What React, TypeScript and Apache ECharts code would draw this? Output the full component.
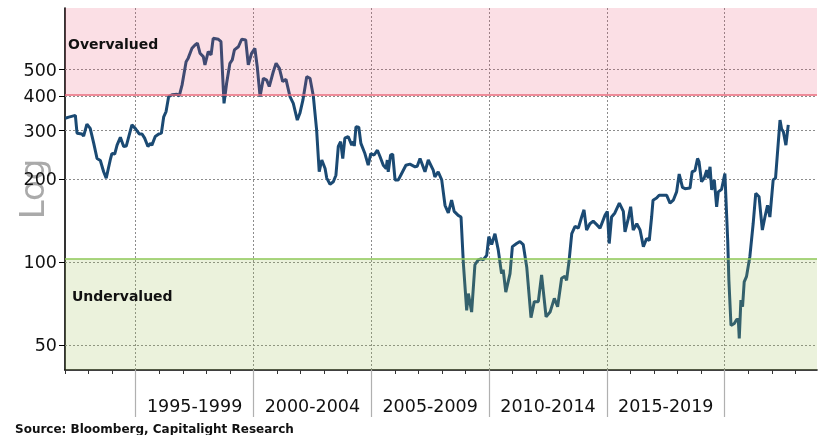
import React, { useEffect, useRef } from "react";
import * as echarts from "echarts";

// Period separators and labels on the time axis
const periodBounds = [1995, 2000, 2005, 2010, 2015, 2020];
const periodCenters = [1997.5, 2002.5, 2007.5, 2012.5, 2017.5];
const periodLabels = ["1995-1999", "2000-2004", "2005-2009", "2010-2014", "2015-2019"];
const yearTicks = Array.from({ length: 32 }, (_, i) => 1992 + i);

// Log value-axis ticks
const yTicks = [50, 100, 200, 300, 400, 500];
const yMin = 40.7;
const yMax = 836;

// Valuation bands
const overvaluedLevel = 406;
const undervaluedLevel = 103;

// [decimal year, value]
const valuation: [number, number][] = [
  [1992.01, 333], [1992.16, 336], [1992.44, 341], [1992.51, 294], [1992.72, 292], [1992.79, 287],
  [1992.93, 317], [1993.07, 306], [1993.22, 270], [1993.36, 238], [1993.5, 234], [1993.64, 213],
  [1993.75, 202], [1993.92, 235], [1993.99, 248], [1994.11, 247], [1994.21, 266], [1994.35, 284],
  [1994.49, 263], [1994.6, 264], [1994.84, 315], [1994.98, 306], [1995.15, 292], [1995.27, 292],
  [1995.38, 282], [1995.52, 263], [1995.62, 270], [1995.69, 266], [1995.83, 286], [1995.98, 292],
  [1996.09, 294], [1996.19, 337], [1996.29, 352], [1996.4, 399], [1996.54, 405], [1996.75, 407],
  [1996.85, 401], [1996.97, 440], [1997.14, 534], [1997.23, 550], [1997.39, 597], [1997.52, 614],
  [1997.62, 623], [1997.73, 573], [1997.87, 557], [1997.94, 520], [1998.08, 581], [1998.2, 565],
  [1998.29, 649], [1998.51, 644], [1998.62, 631], [1998.75, 377], [1998.86, 446], [1999.0, 527],
  [1999.1, 542], [1999.19, 589], [1999.36, 605], [1999.5, 644], [1999.67, 640], [1999.78, 520],
  [1999.92, 573], [2000.06, 597], [2000.16, 512], [2000.28, 399], [2000.42, 465], [2000.56, 458],
  [2000.67, 434], [2000.84, 491], [2000.96, 527], [2001.1, 505], [2001.24, 452], [2001.38, 461],
  [2001.55, 399], [2001.69, 377], [2001.86, 328], [2001.97, 347], [2002.1, 388], [2002.26, 471],
  [2002.4, 465], [2002.54, 401], [2002.68, 302], [2002.79, 213], [2002.9, 235], [2003.04, 219],
  [2003.11, 202], [2003.25, 192], [2003.39, 196], [2003.5, 207], [2003.6, 263], [2003.7, 274],
  [2003.79, 238], [2003.88, 282], [2004.02, 286], [2004.17, 266], [2004.24, 274], [2004.28, 264],
  [2004.35, 310], [2004.47, 309], [2004.56, 270], [2004.73, 248], [2004.87, 225], [2004.98, 248],
  [2005.12, 245], [2005.26, 255], [2005.37, 242], [2005.51, 225], [2005.63, 219], [2005.68, 235],
  [2005.72, 213], [2005.82, 245], [2005.91, 247], [2006.01, 199], [2006.15, 199], [2006.29, 210],
  [2006.47, 225], [2006.64, 227], [2006.86, 222], [2006.95, 223], [2007.07, 238], [2007.28, 213],
  [2007.42, 235], [2007.63, 216], [2007.7, 204], [2007.84, 213], [2007.99, 199], [2008.13, 161],
  [2008.27, 151], [2008.41, 168], [2008.52, 153], [2008.69, 148], [2008.81, 146], [2008.91, 99],
  [2009.05, 67], [2009.12, 77], [2009.26, 66], [2009.4, 98], [2009.54, 102], [2009.66, 103],
  [2009.75, 102], [2009.9, 106], [2009.99, 124], [2010.11, 116], [2010.25, 127], [2010.39, 111],
  [2010.53, 91], [2010.6, 94], [2010.71, 78], [2010.89, 91], [2010.99, 114], [2011.17, 117],
  [2011.31, 119], [2011.45, 116], [2011.6, 96], [2011.78, 63], [2011.92, 72], [2012.09, 72],
  [2012.23, 90], [2012.42, 63.5], [2012.59, 66], [2012.77, 74], [2012.91, 69], [2013.08, 87.5],
  [2013.22, 89], [2013.29, 86], [2013.4, 102], [2013.51, 127], [2013.65, 135], [2013.79, 133],
  [2013.93, 146], [2014.03, 155], [2014.14, 131], [2014.28, 138], [2014.42, 141], [2014.57, 137],
  [2014.71, 133], [2014.92, 148], [2015.02, 153], [2015.1, 117], [2015.2, 146], [2015.34, 151],
  [2015.53, 164], [2015.7, 153], [2015.77, 129], [2015.91, 144], [2016.01, 159], [2016.12, 131],
  [2016.27, 138], [2016.41, 131], [2016.55, 114], [2016.69, 122], [2016.8, 120], [2016.9, 146],
  [2016.96, 168], [2017.11, 171], [2017.22, 175], [2017.39, 175], [2017.54, 175], [2017.68, 164],
  [2017.82, 168], [2017.96, 180], [2018.07, 209], [2018.21, 187], [2018.32, 185], [2018.53, 186],
  [2018.62, 213], [2018.74, 215], [2018.85, 238], [2018.91, 232], [2019.02, 196], [2019.13, 202],
  [2019.24, 216], [2019.3, 202], [2019.38, 222], [2019.45, 183], [2019.56, 199], [2019.66, 159],
  [2019.73, 180], [2019.87, 184], [2020.01, 210], [2020.13, 120], [2020.18, 86], [2020.27, 59],
  [2020.41, 60], [2020.51, 62], [2020.58, 62], [2020.62, 53], [2020.69, 73], [2020.76, 69],
  [2020.83, 85], [2020.93, 89], [2021.07, 105], [2021.21, 138], [2021.32, 178], [2021.46, 173],
  [2021.6, 131], [2021.71, 146], [2021.82, 161], [2021.92, 146], [2022.06, 199], [2022.16, 202],
  [2022.35, 328], [2022.42, 304], [2022.49, 298], [2022.6, 266], [2022.7, 315],
];

const FONT = "DejaVu Sans";

export default function App() {
  const ref = useRef<HTMLDivElement>(null);

  useEffect(() => {
    if (!ref.current) return;
    const chart = echarts.init(ref.current, null, { renderer: "svg" });
    const option: any = {
      animation: false,
      grid: { left: 65, top: 8, right: 6, bottom: 65, containLabel: false, outerBoundsMode: "none" },
      xAxis: [
        {
          type: "value",
          min: 1992,
          max: 2023.92,
          axisLine: { show: true, onZero: false, lineStyle: { color: "#000", width: 1.6 } },
          axisTick: { show: true, customValues: yearTicks, length: 4, lineStyle: { color: "#333", width: 1 } },
          axisLabel: { show: false },
          splitLine: { show: false },
        },
        {
          type: "value",
          min: 1992,
          max: 2023.92,
          position: "bottom",
          axisLine: { show: false, onZero: false },
          axisTick: { show: true, customValues: periodBounds, length: 47, lineStyle: { color: "#b0b0b0", width: 1.2 } },
          axisLabel: {
            show: true,
            customValues: periodCenters,
            formatter: (v: number) => periodLabels[periodCenters.indexOf(v)] ?? "",
            margin: 27,
            fontSize: 17.5,
            color: "#111",
            fontFamily: FONT,
          },
          splitLine: { show: false },
        },
      ],
      yAxis: {
        type: "log",
        logBase: 10,
        min: yMin,
        max: yMax,
        name: "Log",
        nameLocation: "middle",
        nameRotate: 90,
        nameGap: 16,
        nameMoveOverlap: false,
        nameTextStyle: { fontSize: 34, color: "#aaaaaa", fontFamily: FONT },
        axisLine: { show: true, lineStyle: { color: "#000", width: 1.6 } },
        axisTick: { show: true, customValues: yTicks, length: 6, lineStyle: { color: "#000", width: 1 } },
        axisLabel: { customValues: yTicks, fontSize: 17.5, color: "#111", margin: 8, fontFamily: FONT },
        splitLine: { show: false },
      },
      graphic: [
        {
          type: "text", x: 68, y: 44, z: 100,
          style: { text: "Overvalued", fontSize: 14, fontWeight: "bold", fontFamily: FONT, fill: "#111", verticalAlign: "middle" },
        },
        {
          type: "text", x: 72, y: 296, z: 100,
          style: { text: "Undervalued", fontSize: 14, fontWeight: "bold", fontFamily: FONT, fill: "#111", verticalAlign: "middle" },
        },
        {
          type: "text", x: 15, y: 429, z: 100,
          style: { text: "Source: Bloomberg, Capitalight Research", fontSize: 12, fontWeight: "bold", fontFamily: FONT, fill: "#111", verticalAlign: "middle" },
        },
      ],
      series: [
        {
          name: "grid",
          type: "line",
          data: [],
          z: 1,
          silent: true,
          markLine: {
            z: 1,
            silent: true,
            symbol: "none",
            label: { show: false },
            lineStyle: { type: [2, 2], color: "#8c8c8c", width: 1 },
            data: [
              ...yTicks.map((v) => ({ yAxis: v })),
              ...periodBounds.map((v) => ({ xAxis: v })),
            ],
          },
        },
        {
          name: "Valuation",
          type: "line",
          data: valuation,
          z: 2,
          showSymbol: false,
          symbol: "none",
          lineStyle: { color: "#1b4a73", width: 3 },
          itemStyle: { color: "#1b4a73" },
        },
        {
          name: "zones",
          type: "line",
          data: [],
          z: 3,
          silent: true,
          markArea: {
            z: 3,
            silent: true,
            label: { show: false },
            data: [
              [{ yAxis: overvaluedLevel, itemStyle: { color: "rgba(235,80,110,0.18)" } }, { yAxis: yMax }],
              [{ yAxis: yMin, itemStyle: { color: "rgba(155,190,80,0.2)" } }, { yAxis: undervaluedLevel }],
            ],
          },
          markLine: {
            z: 4,
            silent: true,
            symbol: "none",
            label: { show: false },
            data: [
              { yAxis: overvaluedLevel, lineStyle: { color: "#e8697a", width: 1.5, type: "solid" } },
              { yAxis: undervaluedLevel, lineStyle: { color: "#8fc857", width: 1.5, type: "solid" } },
            ],
          },
        },
      ],
    };
    chart.setOption(option);
    return () => chart.dispose();
  }, []);

  return <div ref={ref} style={{ position: "fixed", left: 0, top: 0, width: 823, height: 435 }} />;
}
